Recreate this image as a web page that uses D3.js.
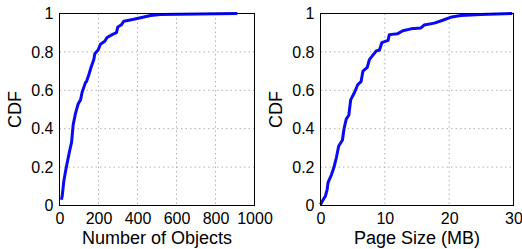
<!DOCTYPE html>
<html>
<head>
<meta charset="utf-8">
<script src="https://cdn.jsdelivr.net/npm/d3@7"></script>
<style>
  body { margin: 0; background: #fff; }
  text { font-family: "Liberation Sans", Arial, Helvetica, sans-serif; fill: #000; }
</style>
</head>
<body>
<div id="chart"></div>
<script>
// CDF of number of objects per page
const objectsX = [10, 14, 22, 35, 51, 62, 70, 82, 96, 108, 116, 133, 138, 150, 162, 176, 181, 198, 210, 232, 244, 270, 292, 299, 316, 330, 381, 467, 518, 912];
const objectsY = [0.03, 0.05, 0.126, 0.20, 0.28, 0.33, 0.42, 0.48, 0.53, 0.55, 0.59, 0.64, 0.645, 0.68, 0.72, 0.76, 0.79, 0.81, 0.84, 0.855, 0.875, 0.89, 0.90, 0.93, 0.94, 0.96, 0.97, 0.99, 0.995, 1.0];

// CDF of page size (MB)
const sizeX = [0, 0.41, 0.77, 1.03, 1.18, 1.7, 2.1, 2.47, 2.83, 3.4, 3.66, 4.0, 4.4, 4.69, 5.3, 5.8, 6.3, 6.6, 7.27, 7.6, 8.3, 8.66, 9.17, 9.53, 10.5, 10.7, 12.0, 12.8, 14.07, 15.6, 16.1, 17.7, 19.0, 20.2, 21.8, 24.9, 29.8];
const sizeY = [0.005, 0.03, 0.05, 0.083, 0.12, 0.16, 0.20, 0.25, 0.31, 0.34, 0.40, 0.45, 0.47, 0.55, 0.59, 0.63, 0.645, 0.70, 0.72, 0.76, 0.79, 0.805, 0.81, 0.848, 0.86, 0.89, 0.895, 0.91, 0.92, 0.925, 0.94, 0.95, 0.965, 0.98, 0.99, 0.995, 1.0];

const yTicks = [0, 0.2, 0.4, 0.6, 0.8, 1];
const objectsTicks = [0, 200, 400, 600, 800, 1000];
const sizeTicks = [0, 10, 20, 30];

const width = 522, height = 249;

const svg = d3.select("#chart").append("svg")
  .attr("width", width)
  .attr("height", height);

function drawPanel(opts) {
  const { left, right, top, bottom, xDomain, xTicks, xs, ys, xLabel, yLabelX } = opts;

  const x = d3.scaleLinear().domain(xDomain).range([left, right]);
  const y = d3.scaleLinear().domain([0, 1]).range([bottom, top]);

  const g = svg.append("g");

  // grid
  g.append("g")
    .selectAll("line")
    .data(xTicks.slice(1, -1))
    .enter()
    .append("line")
    .attr("x1", d => x(d)).attr("x2", d => x(d))
    .attr("y1", top).attr("y2", bottom)
    .attr("stroke", "#b0b0b0")
    .attr("stroke-width", 1)
    .attr("stroke-dasharray", "1.5,3");

  g.append("g")
    .selectAll("line")
    .data(yTicks.slice(1, -1))
    .enter()
    .append("line")
    .attr("x1", left).attr("x2", right)
    .attr("y1", d => y(d)).attr("y2", d => y(d))
    .attr("stroke", "#b0b0b0")
    .attr("stroke-width", 1)
    .attr("stroke-dasharray", "1.5,3");

  // axes (labels only, box drawn separately)
  const xAxis = d3.axisBottom(x).tickValues(xTicks).tickSize(0).tickPadding(7)
    .tickFormat(d3.format("d"));
  g.append("g")
    .attr("transform", `translate(0,${bottom})`)
    .call(xAxis)
    .call(a => a.select(".domain").remove())
    .selectAll("text")
    .attr("font-size", 16)
    .attr("font-family", null);

  const yAxis = d3.axisLeft(y).tickValues(yTicks).tickSize(0).tickPadding(6)
    .tickFormat(d => d === 0 || d === 1 ? String(d) : d3.format(".1f")(d));
  g.append("g")
    .attr("transform", `translate(${left},0)`)
    .call(yAxis)
    .call(a => a.select(".domain").remove())
    .selectAll("text")
    .attr("font-size", 16)
    .attr("font-family", null);

  // curve
  const pts = xs.map((v, i) => [v, ys[i]]);
  const line = d3.line().x(d => x(d[0])).y(d => y(d[1]));
  g.append("path")
    .datum(pts)
    .attr("fill", "none")
    .attr("stroke", "#0a0af0")
    .attr("stroke-width", 3)
    .attr("stroke-linejoin", "round")
    .attr("d", line);

  // box
  g.append("rect")
    .attr("x", left).attr("y", top)
    .attr("width", right - left).attr("height", bottom - top)
    .attr("fill", "none")
    .attr("stroke", "#000")
    .attr("stroke-width", 1);

  // titles
  g.append("text")
    .attr("x", (left + right) / 2)
    .attr("y", 244)
    .attr("text-anchor", "middle")
    .attr("font-size", 18)
    .text(xLabel);

  g.append("text")
    .attr("transform", `translate(${yLabelX},${(top + bottom) / 2}) rotate(-90)`)
    .attr("text-anchor", "middle")
    .attr("font-size", 18)
    .text("CDF");
}

drawPanel({
  left: 59.5, right: 254.5, top: 13.5, bottom: 205.5,
  xDomain: [0, 1000], xTicks: objectsTicks,
  xs: objectsX, ys: objectsY,
  xLabel: "Number of Objects", yLabelX: 21
});

drawPanel({
  left: 320.5, right: 513.5, top: 13.5, bottom: 205.5,
  xDomain: [0, 30], xTicks: sizeTicks,
  xs: sizeX, ys: sizeY,
  xLabel: "Page Size (MB)", yLabelX: 282
});
</script>
</body>
</html>
